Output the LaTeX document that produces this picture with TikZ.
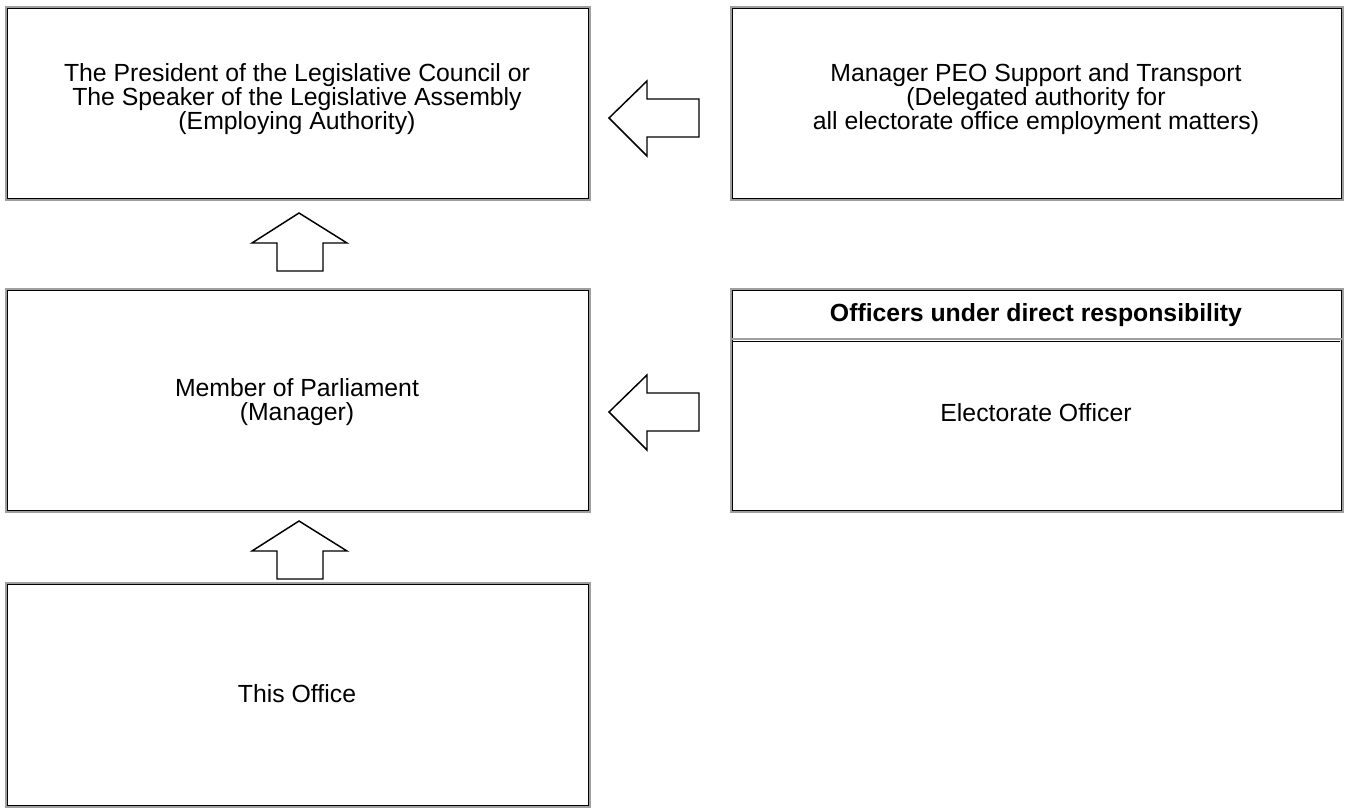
\documentclass[tikz,border=0pt]{standalone}
\usepackage{fontspec}
\setmainfont{Liberation Sans}
\begin{document}
\begin{tikzpicture}[x=0.75pt,y=-0.75pt,
  box/.style={draw=gray!75,line width=1.6pt,anchor=north west,inner sep=0pt},
  inner/.style={draw=black,line width=0.8pt},
  blockarrow/.style={draw=black,line width=1.1pt,fill=white,line join=miter},
  lbl/.style={font=\fontsize{18.6pt}{18pt}\selectfont,align=center,inner sep=0pt}]
\useasboundingbox (0,0) rectangle (1346,808);
% boxes
\node[box,minimum width=584*0.75pt,minimum height=193*0.75pt] (emp) at (5,6) {};
\node[box,minimum width=612*0.75pt,minimum height=193*0.75pt] (mgr) at (730,6) {};
\node[box,minimum width=584*0.75pt,minimum height=223*0.75pt] (mp) at (5,288) {};
\node[box,minimum width=612*0.75pt,minimum height=223*0.75pt] (eo) at (730,288) {};
\node[box,minimum width=584*0.75pt,minimum height=224*0.75pt] (off) at (5,582) {};
\foreach \b in {emp,mgr,mp,eo,off}
  \draw[inner] ([shift={(2.5,2.5)}]\b.north west) rectangle ([shift={(-2.5,-2.5)}]\b.south east);
\coordinate (sepL) at (730,339);
\coordinate (sepR) at (1342,339);
\draw[draw=gray!75,line width=1.6pt] (sepL) -- (sepR);
\draw[inner] ([shift={(2.5,2.5)}]sepL) -- ([shift={(-2.5,2.5)}]sepR);
% texts
\node[lbl] (tEmp) at (297,99.5) {The President of the Legislative Council or\\The Speaker of the Legislative Assembly\\(Employing Authority)};
\node[lbl] (tMgr) at (1036,99.5) {Manager PEO Support and Transport\\(Delegated authority for\\all electorate office employment matters)};
\node[lbl] (tMp) at (297,402) {Member of Parliament\\(Manager)};
\node[lbl,font=\fontsize{18.6pt}{18pt}\selectfont\bfseries] (tHead) at (1036,315) {Officers under direct responsibility};
\node[lbl] (tEo) at (1036,413) {Electorate Officer};
\node[lbl] (tOff) at (297,694) {This Office};
% block arrows
\draw[blockarrow] (299,213) -- (347,243) -- (323,243) -- (323,271) -- (277,271) -- (277,243) -- (252,243) -- cycle;
\draw[blockarrow] (299,521) -- (347,551) -- (323,551) -- (323,579) -- (277,579) -- (277,551) -- (252,551) -- cycle;
\draw[blockarrow] (609,118) -- (647,81) -- (647,99) -- (699,99) -- (699,137) -- (647,137) -- (647,156) -- cycle;
\draw[blockarrow] (609,412) -- (647,375) -- (647,393) -- (699,393) -- (699,431) -- (647,431) -- (647,450) -- cycle;
\end{tikzpicture}
\end{document}
